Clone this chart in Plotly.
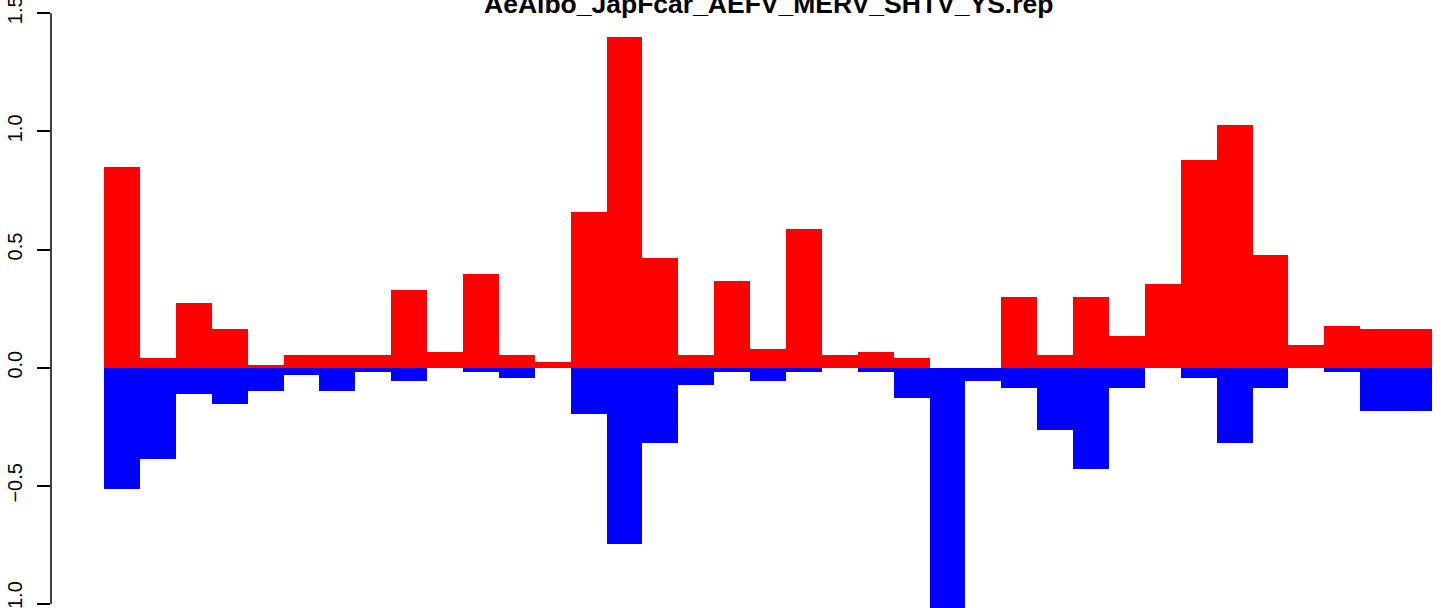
import plotly.graph_objects as go

TITLE = "AeAlbo_JapFcar_AEFV_MERV_SHTV_YS.rep"

# positive (red) and negative (blue) values for each of the 37 positions
pos_values = [0.849, 0.042, 0.274, 0.164, 0.013, 0.054, 0.054, 0.054, 0.329, 0.066,
              0.397, 0.054, 0.025, 0.659, 1.400, 0.464, 0.054, 0.367, 0.079, 0.587,
              0.054, 0.066, 0.041, 0.0, 0.0, 0.299, 0.054, 0.299, 0.134, 0.354,
              0.879, 1.027, 0.477, 0.096, 0.176, 0.164, 0.164]
neg_values = [-0.512, -0.386, -0.110, -0.152, -0.097, -0.030, -0.097, -0.017, -0.055, 0.0,
              -0.017, -0.042, 0.0, -0.196, -0.745, -0.319, -0.072, -0.017, -0.056, -0.017,
              0.0, -0.017, -0.128, -1.03, -0.056, -0.086, -0.262, -0.429, -0.086, 0.0,
              -0.044, -0.319, -0.086, 0.0, -0.018, -0.183, -0.183]
positions = list(range(len(pos_values)))
y_ticks = [-1.0, -0.5, 0.0, 0.5, 1.0, 1.5]

FONT = "Liberation Sans, Arial, Helvetica, sans-serif"
n = len(positions)

fig = go.Figure()
fig.add_trace(go.Bar(x=positions, y=pos_values, width=1.0,
                     marker=dict(color="#FF0000", line=dict(width=0)),
                     hoverinfo="skip", showlegend=False))
fig.add_trace(go.Bar(x=positions, y=neg_values, width=1.0,
                     marker=dict(color="#0000FF", line=dict(width=0)),
                     hoverinfo="skip", showlegend=False))

pad = 0.04 * n
fig.update_layout(
    width=1441, height=608,
    margin=dict(l=51, r=0, t=0, b=0, autoexpand=False),
    paper_bgcolor="white", plot_bgcolor="white",
    barmode="overlay", bargap=0,
    font=dict(family=FONT, color="black"),
    xaxis=dict(visible=False, range=[-0.5 - pad, 36.75], showgrid=False, zeroline=False,
               automargin=False),
    yaxis=dict(range=[-1.017, 1.556], showgrid=False, zeroline=False, showline=False,
               automargin=False, ticklabeloverflow="allow", ticklabelstandoff=7,
               tickvals=y_ticks, tickformat=".1f", ticks="outside", ticklen=13,
               tickwidth=1.5, tickcolor="black", tickangle=-90,
               tickfont=dict(size=20, family=FONT, color="black")),
    shapes=[dict(type="line", xref="paper", yref="y", x0=0, x1=0,
                 y0=min(y_ticks), y1=max(y_ticks),
                 line=dict(color="black", width=1.5))],
    annotations=[dict(text="<b>" + TITLE + "</b>", xref="x", yref="paper",
                      x=(n - 1) / 2, y=1 - 4 / 608, xanchor="center", yanchor="middle",
                      showarrow=False, font=dict(size=26.5, family=FONT, color="black"))],
)

fig.write_html("out.html", config={"displayModeBar": False},
               post_script="document.body.style.margin='0';document.body.style.overflow='hidden';")
